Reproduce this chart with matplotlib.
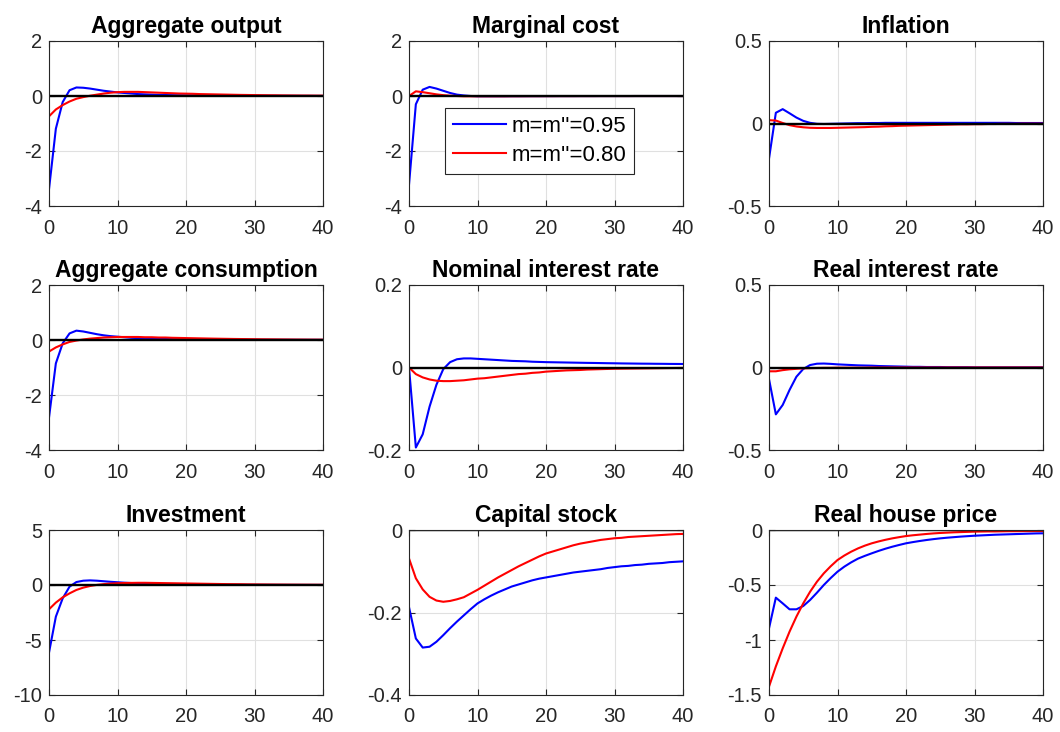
import numpy as np
import matplotlib
matplotlib.use("Agg")
import matplotlib.pyplot as plt
from matplotlib.ticker import FuncFormatter

plt.rcParams['font.family'] = ['Liberation Sans', 'DejaVu Sans']
plt.rcParams['axes.unicode_minus'] = False

horizon = np.arange(41)

label_hi = "m=m''=0.95"
label_lo = "m=m''=0.80"

titles = ["Aggregate output", "Marginal cost", "Inflation",
          "Aggregate consumption", "Nominal interest rate", "Real interest rate",
          "Investment", "Capital stock", "Real house price"]

ylims = [(-4, 2), (-4, 2), (-0.5, 0.5),
         (-4, 2), (-0.2, 0.2), (-0.5, 0.5),
         (-10, 5), (-0.4, 0), (-1.5, 0)]

yticks = [[-4, -2, 0, 2], [-4, -2, 0, 2], [-0.5, 0, 0.5],
          [-4, -2, 0, 2], [-0.2, 0, 0.2], [-0.5, 0, 0.5],
          [-10, -5, 0, 5], [-0.4, -0.2, 0], [-1.5, -1, -0.5, 0]]

# Impulse responses, m=m''=0.95
output_hi = [-3.39, -1.19, -0.22, 0.21, 0.31, 0.30, 0.27, 0.23, 0.19, 0.16,
             0.13, 0.11, 0.09, 0.07, 0.06, 0.05, 0.04, 0.035, 0.03, 0.025,
             0.02, 0.018, 0.016, 0.014, 0.012, 0.011, 0.010, 0.009, 0.008, 0.007,
             0.006, 0.006, 0.005, 0.005, 0.004, 0.004, 0.003, 0.003, 0.003, 0.002, 0.002]
mc_hi = [-3.23, -0.30, 0.23, 0.33, 0.27, 0.19, 0.11, 0.05, 0.02, 0.0,
         -0.01, -0.01, -0.01, -0.01, -0.01, -0.008, -0.008, -0.007, -0.006, -0.006,
         -0.005, -0.005, -0.004, -0.004, -0.004, -0.003, -0.003, -0.003, -0.002, -0.002,
         -0.002, -0.002, -0.002, -0.001, -0.001, -0.001, -0.001, -0.001, -0.001, -0.001, -0.001]
infl_hi = [-0.213, 0.065, 0.087, 0.062, 0.036, 0.016, 0.004, -0.002, -0.003, -0.002,
           -0.001, 0.0, 0.001, 0.002, 0.002, 0.003, 0.003, 0.004, 0.004, 0.004,
           0.004, 0.004, 0.004, 0.004, 0.004, 0.004, 0.004, 0.004, 0.004, 0.004,
           0.004, 0.004, 0.004, 0.004, 0.004, 0.004, 0.003, 0.003, 0.003, 0.003, 0.003]
cons_hi = [-2.82, -0.85, -0.12, 0.24, 0.34, 0.31, 0.26, 0.21, 0.17, 0.14,
           0.12, 0.10, 0.08, 0.07, 0.06, 0.05, 0.04, 0.035, 0.03, 0.025,
           0.02, 0.018, 0.016, 0.014, 0.013, 0.012, 0.011, 0.010, 0.009, 0.008,
           0.008, 0.007, 0.007, 0.006, 0.006, 0.006, 0.005, 0.005, 0.005, 0.005, 0.005]
nom_hi = [0.0, -0.194, -0.162, -0.095, -0.042, -0.004, 0.013, 0.020, 0.022, 0.022,
          0.021, 0.020, 0.019, 0.018, 0.017, 0.016, 0.0155, 0.015, 0.014, 0.0135,
          0.013, 0.0127, 0.0124, 0.0121, 0.0118, 0.0115, 0.0112, 0.011, 0.0107, 0.0104,
          0.0102, 0.0099, 0.0097, 0.0095, 0.0093, 0.0092, 0.009, 0.0089, 0.0087, 0.0086, 0.0085]
real_hi = [-0.07, -0.284, -0.227, -0.136, -0.056, -0.009, 0.015, 0.023, 0.024, 0.022,
           0.019, 0.017, 0.015, 0.013, 0.012, 0.011, 0.009, 0.008, 0.007, 0.006,
           0.005, 0.004, 0.004, 0.003, 0.003, 0.003, 0.002, 0.002, 0.002, 0.002,
           0.001, 0.001, 0.001, 0.001, 0.001, 0.001, 0.001, 0.001, 0.001, 0.001, 0.001]
inv_hi = [-6.15, -2.88, -1.21, -0.15, 0.27, 0.39, 0.42, 0.39, 0.34, 0.29,
          0.25, 0.21, 0.18, 0.15, 0.12, 0.10, 0.08, 0.07, 0.06, 0.05,
          0.04, 0.035, 0.03, 0.027, 0.024, 0.021, 0.018, 0.016, 0.014, 0.012,
          0.011, 0.010, 0.009, 0.008, 0.007, 0.006, 0.006, 0.005, 0.005, 0.004, 0.004]
cap_hi = [-0.187, -0.263, -0.285, -0.283, -0.271, -0.255, -0.238, -0.222, -0.207, -0.192,
          -0.178, -0.168, -0.159, -0.151, -0.144, -0.137, -0.132, -0.127, -0.122, -0.118,
          -0.115, -0.112, -0.109, -0.106, -0.103, -0.101, -0.099, -0.097, -0.095, -0.092,
          -0.090, -0.088, -0.087, -0.085, -0.084, -0.082, -0.081, -0.080, -0.078, -0.077, -0.076]
house_hi = [-0.894, -0.615, -0.667, -0.721, -0.721, -0.691, -0.636, -0.57, -0.50, -0.437,
            -0.379, -0.333, -0.294, -0.26, -0.235, -0.212, -0.19, -0.17, -0.152, -0.136,
            -0.121, -0.11, -0.10, -0.091, -0.083, -0.076, -0.07, -0.065, -0.06, -0.056,
            -0.052, -0.049, -0.046, -0.043, -0.041, -0.039, -0.037, -0.035, -0.033, -0.031, -0.03]

# Impulse responses, m=m''=0.80
output_lo = [-0.74, -0.49, -0.33, -0.20, -0.10, -0.04, 0.01, 0.05, 0.09, 0.12,
             0.14, 0.15, 0.15, 0.15, 0.14, 0.13, 0.12, 0.11, 0.10, 0.09,
             0.085, 0.08, 0.07, 0.065, 0.06, 0.055, 0.05, 0.045, 0.04, 0.037,
             0.033, 0.03, 0.027, 0.025, 0.022, 0.02, 0.018, 0.016, 0.015, 0.013, 0.012]
mc_lo = [0.0, 0.17, 0.14, 0.10, 0.06, 0.03, 0.01, 0.0, -0.01, -0.01,
         -0.01, -0.01, -0.01, -0.01, -0.01, -0.008, -0.008, -0.007, -0.006, -0.006,
         -0.005, -0.005, -0.004, -0.004, -0.004, -0.003, -0.003, -0.003, -0.002, -0.002,
         -0.002, -0.002, -0.002, -0.001, -0.001, -0.001, -0.001, -0.001, -0.001, -0.001, -0.001]
infl_lo = [0.02, 0.018, 0.003, -0.01, -0.018, -0.023, -0.026, -0.027, -0.027, -0.027,
           -0.026, -0.025, -0.024, -0.023, -0.022, -0.02, -0.019, -0.017, -0.016, -0.014,
           -0.013, -0.012, -0.011, -0.01, -0.009, -0.008, -0.007, -0.006, -0.005, -0.005,
           -0.004, -0.004, -0.003, -0.003, -0.002, -0.002, -0.002, -0.001, -0.001, -0.001, -0.001]
cons_lo = [-0.42, -0.27, -0.16, -0.07, -0.02, 0.02, 0.05, 0.07, 0.09, 0.10,
           0.11, 0.11, 0.11, 0.11, 0.10, 0.10, 0.09, 0.09, 0.08, 0.075,
           0.07, 0.065, 0.06, 0.055, 0.05, 0.046, 0.042, 0.038, 0.035, 0.032,
           0.029, 0.026, 0.024, 0.022, 0.02, 0.018, 0.016, 0.015, 0.013, 0.012, 0.011]
nom_lo = [0.0, -0.016, -0.024, -0.029, -0.032, -0.033, -0.033, -0.032, -0.031, -0.029,
          -0.027, -0.026, -0.024, -0.022, -0.020, -0.018, -0.016, -0.015, -0.013, -0.012,
          -0.010, -0.009, -0.008, -0.007, -0.0065, -0.006, -0.005, -0.0045, -0.004, -0.0035,
          -0.003, -0.0028, -0.0026, -0.0024, -0.0022, -0.002, -0.0018, -0.0016, -0.0014, -0.0012, -0.001]
real_lo = [-0.023, -0.023, -0.016, -0.011, -0.008, -0.005, -0.004, -0.003, -0.002, -0.002,
           -0.001, -0.001, -0.001, -0.001, -0.001, 0.0, 0.0, 0.0, 0.0, 0.0,
           0.0, 0.0, 0.0, 0.0, 0.0, 0.0, 0.0, 0.0, 0.0, 0.0,
           0.0, 0.0, 0.0, 0.0, 0.0, 0.0, 0.0, 0.0, 0.0, 0.0, 0.0]
inv_lo = [-2.21, -1.6, -1.12, -0.76, -0.45, -0.24, -0.09, 0.01, 0.08, 0.13,
          0.16, 0.18, 0.19, 0.2, 0.2, 0.19, 0.18, 0.17, 0.16, 0.15,
          0.14, 0.13, 0.12, 0.11, 0.10, 0.09, 0.08, 0.075, 0.07, 0.06,
          0.055, 0.05, 0.045, 0.04, 0.037, 0.033, 0.03, 0.027, 0.025, 0.022, 0.02]
cap_lo = [-0.069, -0.117, -0.144, -0.162, -0.171, -0.174, -0.172, -0.168, -0.163, -0.154,
          -0.145, -0.135, -0.125, -0.115, -0.106, -0.097, -0.088, -0.080, -0.072, -0.064,
          -0.057, -0.052, -0.047, -0.042, -0.037, -0.033, -0.030, -0.027, -0.024, -0.022,
          -0.020, -0.019, -0.017, -0.016, -0.015, -0.014, -0.013, -0.012, -0.011, -0.010, -0.0095]
house_lo = [-1.424, -1.24, -1.076, -0.924, -0.788, -0.667, -0.561, -0.47, -0.394, -0.33,
            -0.273, -0.232, -0.197, -0.167, -0.142, -0.121, -0.104, -0.089, -0.076, -0.065,
            -0.055, -0.048, -0.042, -0.036, -0.031, -0.027, -0.024, -0.021, -0.019, -0.017,
            -0.015, -0.014, -0.013, -0.013, -0.012, -0.011, -0.011, -0.010, -0.010, -0.009, -0.009]

series_hi = [output_hi, mc_hi, infl_hi, cons_hi, nom_hi, real_hi, inv_hi, cap_hi, house_hi]
series_lo = [output_lo, mc_lo, infl_lo, cons_lo, nom_lo, real_lo, inv_lo, cap_lo, house_lo]

fig = plt.figure(figsize=(10.6, 7.32), dpi=100)

W, H = 1060.0, 732.0
col_left = [49, 409, 769]
row_top = [41, 285, 530]
ax_w, ax_h = 274, 165

axis_gray = (0.15, 0.15, 0.15)


def fmt(v, pos):
    return "%g" % round(v, 6)


for i in range(9):
    r, c = divmod(i, 3)
    ax = fig.add_axes([col_left[c] / W, 1 - (row_top[r] + ax_h) / H, ax_w / W, ax_h / H])
    ax.plot(horizon, series_hi[i], color=(0, 0, 1), lw=1.5, label=label_hi)
    ax.plot(horizon, series_lo[i], color=(1, 0, 0), lw=1.5, label=label_lo)
    ax.plot(horizon, np.zeros_like(horizon), color='k', lw=1.7)
    ax.set_xlim(0, 40)
    ax.set_ylim(*ylims[i])
    ax.set_xticks([0, 10, 20, 30, 40])
    ax.set_yticks(yticks[i])
    ax.yaxis.set_major_formatter(FuncFormatter(fmt))
    ax.grid(True, color=(0.88, 0.88, 0.88), lw=0.8)
    ax.set_axisbelow(True)
    ax.tick_params(direction='in', top=True, right=True, length=4, width=0.8,
                   colors=axis_gray, labelsize=14.5, labelcolor=axis_gray)
    ax.tick_params(axis='x', pad=9)
    ax.tick_params(axis='y', pad=5)
    for s in ax.spines.values():
        s.set_color(axis_gray)
        s.set_linewidth(0.8)
    ax.set_title(titles[i], fontsize=16.5, fontweight='bold', pad=6)
    if i == 1:
        leg = ax.legend(loc='upper left', bbox_to_anchor=(0.131, 0.594), fontsize=16,
                        frameon=True, fancybox=False, handlelength=2.4,
                        borderpad=0.35, labelspacing=0.38, handletextpad=0.25,
                        borderaxespad=0.0)
        leg.get_frame().set_edgecolor(axis_gray)
        leg.get_frame().set_linewidth(0.8)
        leg.get_frame().set_alpha(1.0)

fig.savefig("out.png", dpi=100)
